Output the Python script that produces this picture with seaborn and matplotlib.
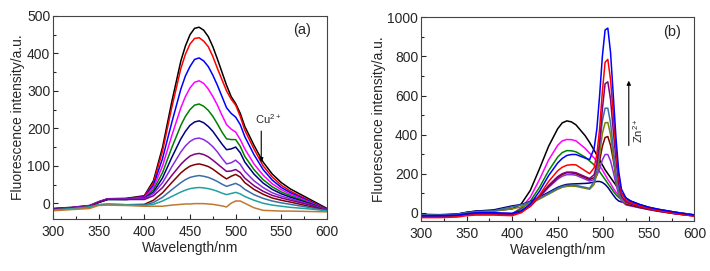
import numpy as np
import pandas as pd
import matplotlib
matplotlib.use("Agg")
import matplotlib.pyplot as plt
from matplotlib.ticker import MultipleLocator
import seaborn as sns

# ---- panel (a): Cu2+ quenching ----
wl_a = [300, 320, 340, 350, 360, 380, 400, 410, 420, 430, 440, 445, 450, 455,
        460, 465, 470, 475, 480, 485, 490, 495, 500, 505, 510, 520, 530, 540,
        550, 560, 580, 600]

cu_black = [-14, -11, -6, 4, 12, 13, 20, 60, 150, 270, 380, 420, 450, 467,
            470, 462, 445, 418, 385, 350, 315, 285, 266, 240, 205, 155, 110, 78,
            55, 38, 12, -14]
cu_red = [-15, -12, -7, 3, 11, 12, 18, 55, 140, 255, 360, 398, 425, 440,
          442, 433, 418, 392, 360, 330, 300, 278, 262, 232, 195, 145, 100, 70,
          48, 32, 8, -16]
cu_blue = [-15, -12, -7, 3, 11, 12, 17, 48, 120, 215, 305, 340, 365, 384,
           388, 380, 365, 342, 315, 285, 255, 240, 230, 210, 178, 130, 90, 62,
           42, 28, 6, -17]
cu_magenta = [-16, -12, -7, 3, 11, 11, 16, 42, 100, 180, 255, 285, 308, 323,
              327, 320, 305, 285, 262, 235, 210, 198, 190, 170, 145, 105, 75, 52,
              36, 24, 4, -18]
cu_green = [-16, -13, -8, 2, 10, 10, 14, 36, 82, 148, 208, 232, 250, 262,
            265, 259, 248, 232, 212, 190, 172, 170, 170, 152, 125, 90, 63, 44,
            30, 20, 2, -18]
cu_navy = [-16, -13, -8, 2, 10, 10, 13, 30, 68, 122, 172, 192, 208, 217,
           220, 215, 205, 192, 175, 158, 143, 145, 150, 135, 110, 78, 54, 37,
           25, 16, 0, -19]
cu_violet = [-17, -13, -8, 4, 12, 11, 12, 26, 55, 97, 137, 153, 165, 172,
             174, 170, 162, 151, 137, 120, 105, 108, 115, 104, 85, 60, 42, 28,
             19, 12, -2, -19]
cu_purple = [-17, -14, -9, 3, 11, 10, 10, 20, 42, 74, 104, 116, 126, 131,
             133, 130, 124, 115, 105, 95, 85, 86, 90, 82, 67, 47, 32, 21,
             14, 8, -4, -20]
cu_maroon = [-18, -14, -10, -4, -3, -4, -3, 8, 28, 55, 81, 91, 99, 103,
             105, 102, 98, 91, 82, 73, 65, 72, 77, 70, 55, 37, 24, 14,
             8, 3, -8, -21]
cu_steel = [-18, -15, -10, -4, -3, -4, -5, 2, 16, 36, 55, 63, 69, 72,
            74, 72, 69, 64, 58, 51, 45, 49, 53, 47, 37, 23, 13, 6,
            1, -3, -11, -21]
cu_teal = [-18, -15, -10, -4, -3, -4, -6, -3, 6, 18, 30, 35, 39, 41,
           42, 41, 39, 36, 32, 27, 23, 26, 29, 25, 18, 8, 0, -5,
           -8, -11, -15, -20]
cu_brown = [-20, -17, -14, -6, -5, -6, -8, -8, -8, -5, -3, -2, -2, -1,
            -1, -1, -2, -3, -5, -7, -10, 0, 6, 6, 0, -12, -19, -20,
            -21, -21, -22, -23]

series_a = [cu_black, cu_red, cu_blue, cu_magenta, cu_green, cu_navy,
            cu_violet, cu_purple, cu_maroon, cu_steel, cu_teal, cu_brown]
colors_a = ["#000000", "#ff0000", "#0000ff", "#ff00ff", "#008000", "#000080",
            "#8a2be2", "#800080", "#800000", "#3a6ea5", "#20a0a0", "#c07830"]

# ---- panel (b): Zn2+ enhancement ----
wl_b = [300, 320, 340, 350, 360, 380, 400, 410, 420, 430, 440, 450, 455, 460,
        465, 470, 480, 485, 490, 493, 496, 499, 502, 505, 508, 511, 514, 517,
        520, 525, 530, 540, 550, 560, 580, 600]

zn_black = [-10, -12, -8, 2, 8, 10, 20, 45, 115, 225, 340, 430, 460, 470,
            465, 450, 395, 360, 320, 295, 270, 245, 220, 200, 180, 160, 140, 120,
            100, 75, 60, 42, 28, 18, 2, -12]
zn_magenta = [-15, -15, -12, -5, -2, -3, -5, 25, 80, 170, 270, 345, 368, 375,
              374, 368, 330, 305, 280, 260, 240, 220, 195, 170, 150, 125, 105, 90,
              75, 58, 52, 38, 26, 16, 0, -14]
zn_green = [-15, -15, -12, -5, -2, -3, -5, 20, 60, 130, 215, 285, 308, 318,
            317, 312, 285, 265, 245, 230, 210, 190, 170, 150, 130, 110, 92, 78,
            68, 55, 50, 36, 25, 15, 0, -14]
zn_navy = [-8, -10, -6, 2, 8, 15, 35, 42, 58, 80, 105, 130, 139, 145,
           147, 148, 150, 152, 157, 160, 160, 155, 145, 130, 110, 90, 72, 60,
           55, 52, 48, 35, 24, 15, 0, -12]
zn_violet = [-20, -20, -15, -8, -5, -5, -8, 5, 33, 80, 130, 172, 187, 195,
             195, 192, 172, 162, 170, 190, 225, 270, 298, 298, 265, 210, 145, 90,
             60, 40, 35, 25, 16, 8, -6, -16]
zn_maroon = [-20, -20, -15, -8, -5, -5, -8, 5, 34, 82, 135, 180, 196, 205,
             204, 200, 180, 170, 180, 210, 265, 340, 385, 390, 345, 270, 180, 110,
             70, 45, 38, 27, 17, 8, -6, -16]
zn_olive = [-12, -14, -10, -2, 3, 8, 20, 30, 48, 70, 95, 120, 130, 135,
            136, 135, 125, 120, 145, 200, 300, 405, 460, 462, 400, 290, 180, 100,
            65, 50, 45, 32, 22, 13, 0, -12]
zn_steel = [-10, -12, -8, 0, 5, 10, 30, 40, 55, 75, 100, 125, 135, 140,
            141, 140, 130, 125, 160, 230, 350, 470, 535, 535, 460, 330, 200, 110,
            70, 55, 50, 35, 24, 15, 2, -10]
zn_purple = [-20, -20, -15, -8, -5, -5, -8, 5, 35, 85, 140, 185, 200, 208,
             208, 205, 185, 175, 195, 250, 360, 530, 660, 670, 580, 420, 270, 150,
             85, 55, 45, 30, 20, 10, -5, -15]
zn_red = [-25, -25, -22, -15, -12, -12, -15, 0, 35, 90, 160, 215, 233, 243,
          246, 245, 215, 200, 230, 300, 430, 620, 770, 785, 680, 500, 320, 180,
          100, 65, 52, 35, 22, 12, -5, -18]
zn_blue = [-15, -15, -12, -5, 0, 0, -3, 10, 45, 110, 190, 255, 278, 293,
           298, 298, 280, 272, 330, 430, 600, 800, 935, 945, 820, 600, 380, 210,
           120, 75, 60, 42, 28, 18, 2, -12]

series_b = [zn_black, zn_magenta, zn_green, zn_navy, zn_violet, zn_maroon,
            zn_olive, zn_steel, zn_purple, zn_red, zn_blue]
colors_b = ["#000000", "#ff00ff", "#008000", "#000080", "#8a2be2", "#800000",
            "#808000", "#3a6ea5", "#800080", "#ff0000", "#0000ff"]

sns.set_style("ticks")
plt.rcParams['font.family'] = ['Liberation Sans', 'DejaVu Sans']

fig = plt.figure(figsize=(7.1, 2.71), dpi=100)
ax1 = fig.add_axes([0.0746, 0.192, 0.386, 0.749])
ax2 = fig.add_axes([0.593, 0.184, 0.385, 0.752])

for vals, c in zip(series_a, colors_a):
    sns.lineplot(x=wl_a, y=vals, color=c, lw=1.1, ax=ax1)
for vals, c in zip(series_b, colors_b):
    sns.lineplot(x=wl_b, y=vals, color=c, lw=1.1, ax=ax2)

ax1.set_xlim(300, 600)
ax1.set_ylim(-42, 500)
ax1.yaxis.set_major_locator(MultipleLocator(100))
ax1.yaxis.set_minor_locator(MultipleLocator(50))
ax2.set_xlim(300, 600)
ax2.set_ylim(-43, 1000)
ax2.yaxis.set_major_locator(MultipleLocator(200))
ax2.yaxis.set_minor_locator(MultipleLocator(100))

for ax in (ax1, ax2):
    ax.xaxis.set_major_locator(MultipleLocator(50))
    ax.xaxis.set_minor_locator(MultipleLocator(25))
    ax.tick_params(which='both', direction='in', labelsize=10, width=0.8,
                   pad=2)
    ax.tick_params(axis='x', pad=4)
    ax.tick_params(which='major', length=3.5)
    ax.tick_params(which='minor', length=2)
    for s in ax.spines.values():
        s.set_visible(True)
        s.set_linewidth(0.8)
        s.set_color('#444444')
    ax.set_xlabel('Wavelength/nm', fontsize=10, labelpad=2)
    ax.set_ylabel('Fluorescence intensity/a.u.', fontsize=10, labelpad=1)

ax1.text(0.91, 0.93, '(a)', transform=ax1.transAxes, fontsize=10.5,
         ha='center', va='center')
ax1.text(521, 226, r'$\mathregular{Cu^{2+}}$', fontsize=8, ha='left',
         va='center')
ax1.annotate('', xy=(528, 102), xytext=(528, 200),
             arrowprops=dict(arrowstyle='-|>', color='black', lw=0.8,
                             mutation_scale=6))

ax2.text(0.92, 0.93, '(b)', transform=ax2.transAxes, fontsize=10.5,
         ha='center', va='center')
ax2.text(538, 420, r'$\mathregular{Zn^{2+}}$', fontsize=8, rotation=90,
         ha='center', va='center')
ax2.annotate('', xy=(528, 690), xytext=(528, 330),
             arrowprops=dict(arrowstyle='-|>', color='black', lw=0.8,
                             mutation_scale=6))

fig.savefig('out.png', dpi=100)
